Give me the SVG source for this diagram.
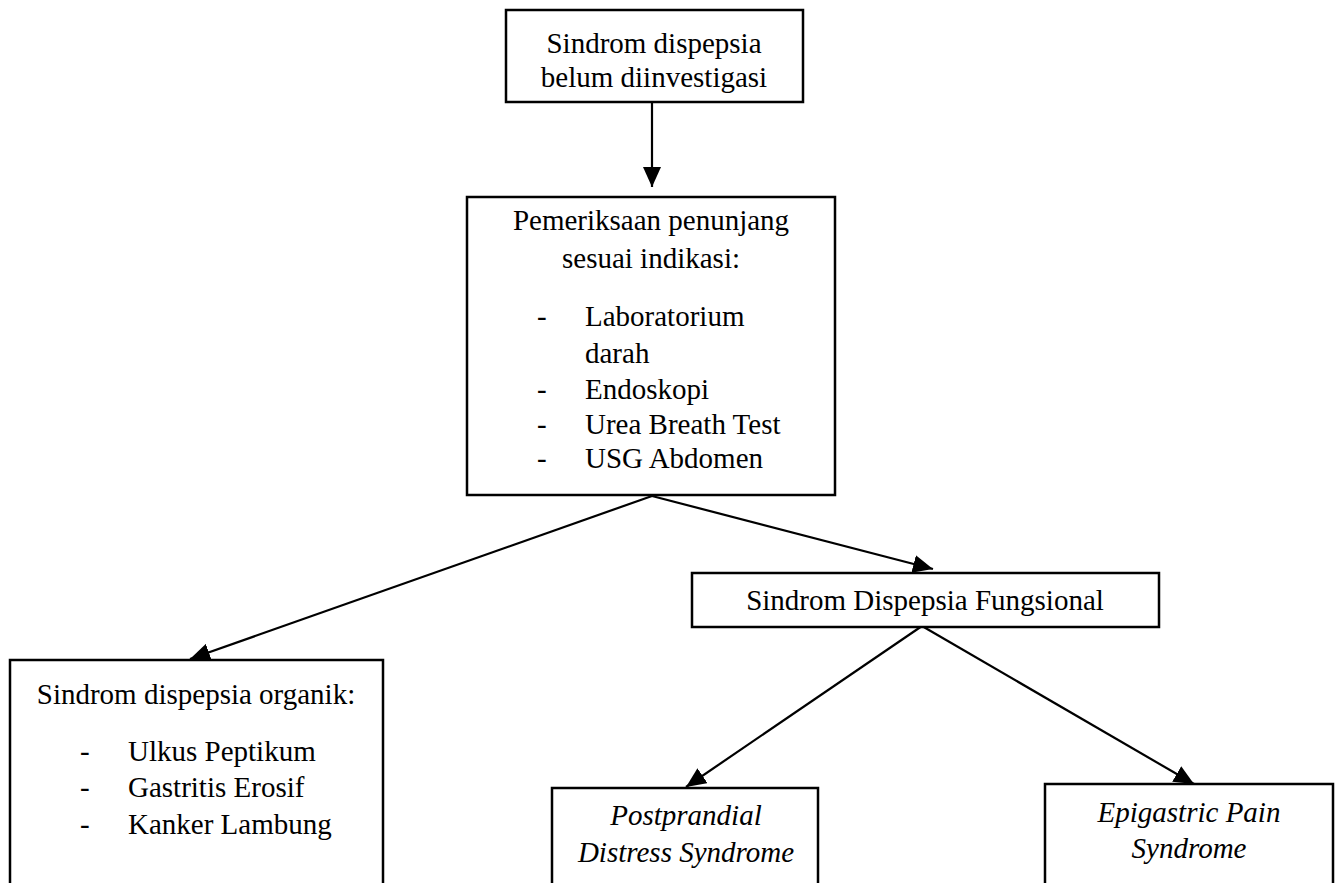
<svg xmlns="http://www.w3.org/2000/svg" width="1338" height="883" viewBox="0 0 1338 883">
<style>
.box{fill:#fff;stroke:#000;stroke-width:2.5}
.t{font-family:"Liberation Serif","Times New Roman",serif;font-size:29px;fill:#000}
.c{text-anchor:middle}
.i{font-style:italic}
.ln{stroke:#000;stroke-width:2.2;fill:none}
</style>
<defs>
<marker id="ah" markerUnits="userSpaceOnUse" markerWidth="22" markerHeight="18" refX="20" refY="9" orient="auto">
<path d="M0,0 L20,9 L0,18 Z" fill="#000"/>
</marker>
</defs>
<rect width="1338" height="883" fill="#fff"/>
<g id="connectors">
<line class="ln" x1="652" y1="102" x2="652" y2="187" marker-end="url(#ah)"/>
<line class="ln" x1="652" y1="496" x2="190" y2="659" marker-end="url(#ah)"/>
<line class="ln" x1="652" y1="496" x2="933" y2="569" marker-end="url(#ah)"/>
<line class="ln" x1="922" y1="626" x2="686" y2="787" marker-end="url(#ah)"/>
<line class="ln" x1="922" y1="626" x2="1194" y2="784" marker-end="url(#ah)"/>
</g>
<g id="node-belum">
<rect class="box" x="506" y="10" width="297" height="92"/>
<text class="t c" x="654" y="53">Sindrom dispepsia</text>
<text class="t c" x="654" y="87">belum diinvestigasi</text>
</g>
<g id="node-pemeriksaan">
<rect class="box" x="467" y="197" width="368" height="298"/>
<text class="t c" x="651" y="230">Pemeriksaan penunjang</text>
<text class="t c" x="651" y="268">sesuai indikasi:</text>
<text class="t" x="537" y="326">-</text>
<text class="t" x="585" y="326">Laboratorium</text>
<text class="t" x="585" y="363">darah</text>
<text class="t" x="537" y="399">-</text>
<text class="t" x="585" y="399">Endoskopi</text>
<text class="t" x="537" y="434">-</text>
<text class="t" x="585" y="434">Urea Breath Test</text>
<text class="t" x="537" y="468">-</text>
<text class="t" x="585" y="468">USG Abdomen</text>
</g>
<g id="node-organik">
<rect class="box" x="10" y="660" width="373" height="240"/>
<text class="t c" x="196" y="704">Sindrom dispepsia organik:</text>
<text class="t" x="80" y="761">-</text>
<text class="t" x="128" y="761">Ulkus Peptikum</text>
<text class="t" x="80" y="797">-</text>
<text class="t" x="128" y="797">Gastritis Erosif</text>
<text class="t" x="80" y="834">-</text>
<text class="t" x="128" y="834">Kanker Lambung</text>
</g>
<g id="node-fungsional">
<rect class="box" x="692" y="573" width="467" height="54"/>
<text class="t c" x="925" y="610">Sindrom Dispepsia Fungsional</text>
</g>
<g id="node-pds">
<rect class="box" x="552" y="788" width="266" height="120"/>
<text class="t c i" x="686" y="825">Postprandial</text>
<text class="t c i" x="686" y="862">Distress Syndrome</text>
</g>
<g id="node-eps">
<rect class="box" x="1045" y="784" width="288" height="120"/>
<text class="t c i" x="1189" y="822">Epigastric Pain</text>
<text class="t c i" x="1189" y="858">Syndrome</text>
</g>
</svg>
